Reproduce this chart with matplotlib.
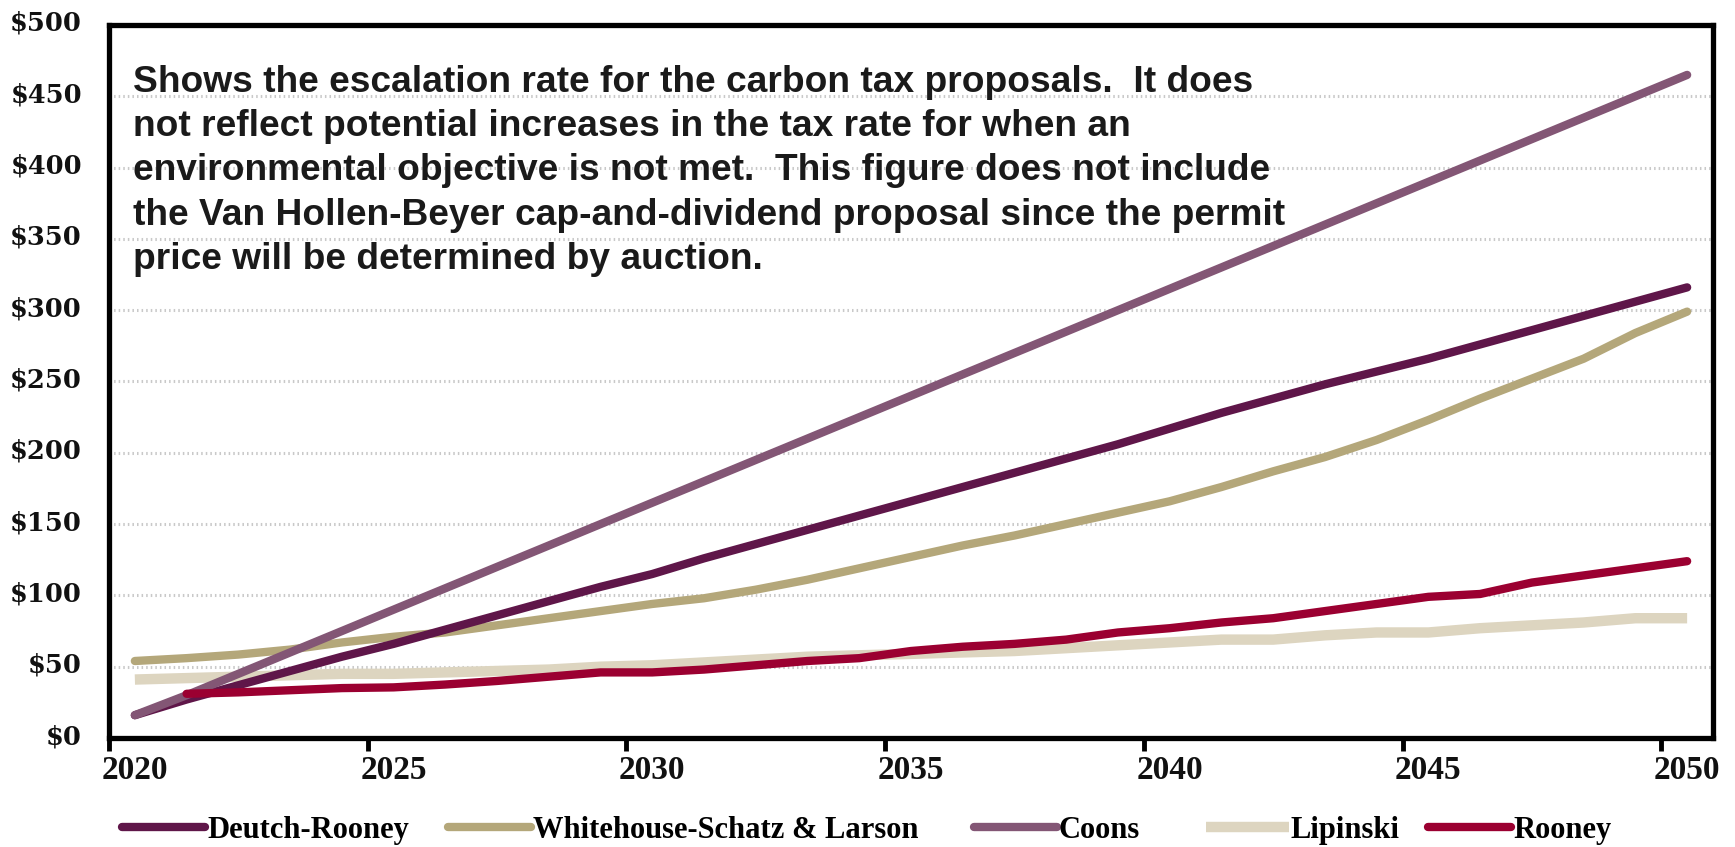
import matplotlib
matplotlib.use("Agg")
import matplotlib.pyplot as plt
from matplotlib.lines import Line2D
from matplotlib.transforms import ScaledTranslation

years = list(range(2020, 2051))
tick_years = [2020, 2025, 2030, 2035, 2040, 2045, 2050]

deutch_rooney = [16, 27, 37, 47, 57, 66, 76, 86, 96, 106, 115, 126, 136, 146, 156, 166,
                 176, 186, 196, 206, 217, 228, 238, 248, 257, 266, 276, 286, 296, 306, 316]
whitehouse = [54, 56, 58.5, 62, 67, 71, 74, 79, 84, 89, 94, 98, 104, 111, 119, 127,
              135, 142, 150, 158, 166, 176, 187, 197, 209, 223, 238, 252, 266, 284, 299]
coons = [16, 30, 45, 60, 75, 90, 105, 120, 135, 150, 165, 180, 195, 210, 225, 240,
         255, 270, 285, 300, 315, 330, 345, 360, 375, 390, 405, 420, 435, 450, 465]
lipinski = [41, 42, 43, 44, 45, 45, 46, 47, 48, 50, 51, 53, 55, 57, 58, 59,
            60, 61, 63, 65, 67, 69, 69, 72, 74, 74, 77, 79, 81, 84, 84]
rooney = [None, 31, 32, 33.5, 35, 35.5, 37.5, 40, 43, 46, 46, 48, 51, 54, 56, 61,
          64, 66, 69, 74, 77, 81, 84, 89, 94, 99, 101, 109, 114, 119, 124]

series_names = ["Deutch-Rooney", "Whitehouse-Schatz & Larson", "Coons", "Lipinski", "Rooney"]
series_colors = ["#5F1649", "#B4A77A", "#835675", "#DDD5C0", "#9B0031"]

y_ticks = [0, 50, 100, 150, 200, 250, 300, 350, 400, 450, 500]
y_labels = ["$" + str(v) for v in y_ticks]

note = ("Shows the escalation rate for the carbon tax proposals.  It does\n"
        "not reflect potential increases in the tax rate for when an\n"
        "environmental objective is not met.  This figure does not include\n"
        "the Van Hollen-Beyer cap-and-dividend proposal since the permit\n"
        "price will be determined by auction.")

W, H = 1735, 847
fig = plt.figure(figsize=(W / 100, H / 100), dpi=100)
ax = fig.add_axes([109 / W, 1 - 738 / H, (1713 - 109) / W, (738 - 25) / H])

xpos = list(range(len(years)))
data = [deutch_rooney, whitehouse, coons, lipinski, rooney]
order = [3, 1, 0, 2, 4]
zorders = {3: 3, 1: 4, 0: 5, 2: 6, 4: 7}
for k in order:
    vals = data[k]
    xs = [x for x, v in zip(xpos, vals) if v is not None]
    ys = [v for v in vals if v is not None]
    lw = 7.5 if k == 3 else 6.0
    cap = "butt" if k == 3 else "round"
    ax.plot(xs, ys, color=series_colors[k], lw=lw, solid_capstyle=cap,
            solid_joinstyle="round", zorder=zorders[k])

ax.set_xlim(-0.5, len(years) - 0.5)
ax.set_ylim(0, 500)

# gridlines
for v in y_ticks[1:-1]:
    ax.axhline(v, color="#C9C9C9", lw=2.2, ls=(0, (0.5, 1.0)), zorder=1)

ax.set_yticks(y_ticks)
ax.set_yticklabels(y_labels, fontfamily=["DejaVu Serif"], fontweight="bold",
                   fontsize=18.5, color="#111111")
ax.tick_params(axis="y", length=0, pad=19.5)
for lab in ax.get_yticklabels():
    lab.set_transform(lab.get_transform() + ScaledTranslation(0, 4 / 100, fig.dpi_scale_trans))

major = [years.index(y) - 0.5 for y in tick_years]
ax.set_xticks(major)
ax.set_xticklabels([])
ax.tick_params(axis="x", which="major", length=9, width=3.5, direction="out", color="black")
ax.set_xticks([years.index(y) for y in tick_years], minor=True)
ax.set_xticklabels([str(y) for y in tick_years], minor=True,
                   fontfamily=["Liberation Serif"],
                   fontweight="bold", fontsize=24, color="#111111")
ax.tick_params(axis="x", which="minor", length=0, pad=12)

for s in ax.spines.values():
    s.set_linewidth(3.8)
    s.set_color("black")

fig.text(133 / W, 1 - 65 / H, note, ha="left", va="top",
         fontfamily=["Liberation Sans"], fontweight="bold", fontsize=26.7,
         color="#1A1A1A", linespacing=1.34)

handle_starts = [122, 448, 974, 1206, 1428]
for k in range(5):
    h = Line2D([], [], color=series_colors[k], lw=(7.5 if k == 3 else 6.0),
               solid_capstyle=("butt" if k == 3 else "round"))
    fig.legend([h], [series_names[k]], loc="center left",
               bbox_to_anchor=(handle_starts[k] / W, 1 - 830 / H),
               frameon=False, handlelength=2.7, handletextpad=0.08,
               borderpad=0, borderaxespad=0,
               prop={"family": ["Liberation Serif"], "weight": "bold", "size": 22})

fig.savefig("out.png", dpi=100, facecolor="white")
